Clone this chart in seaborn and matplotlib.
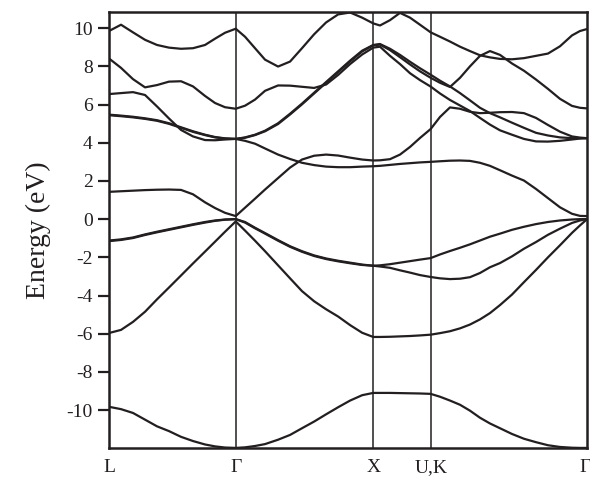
import numpy as np
import pandas as pd
import matplotlib
matplotlib.use("Agg")
import matplotlib.pyplot as plt
import matplotlib.transforms as mtransforms
import seaborn as sns

# ---- data ----
sym_k = [0.0, 0.2648, 0.5528, 0.6732, 1.0]
sym_labels = ["L", "Γ", "X", "U,K", "Γ"]

k_path = [0.0000, 0.0245, 0.0496, 0.0748, 0.0999, 0.1250, 0.1502, 0.1753, 0.2005, 0.2215, 0.2424, 0.2648,
          0.2843, 0.3052, 0.3262, 0.3535, 0.3786, 0.4036, 0.4290, 0.4541, 0.4793, 0.5044, 0.5296, 0.5528,
          0.5670, 0.5880, 0.6089, 0.6299, 0.6508, 0.6732,
          0.6927, 0.7136, 0.7346, 0.7555, 0.7765, 0.7974, 0.8184, 0.8435, 0.8686, 0.8938, 0.9189, 0.9440,
          0.9692, 0.9859, 1.0000]

band_top = [9.86, 10.18, 9.78, 9.39, 9.12, 8.98, 8.92, 8.95, 9.12, 9.45, 9.76, 9.97,
            9.55, 8.95, 8.35, 7.99, 8.25, 8.95, 9.68, 10.30, 10.72, 10.82, 10.55, 10.25,
            10.14, 10.42, 10.80, 10.55, 10.18, 9.78,
            9.55, 9.30, 9.03, 8.80, 8.58, 8.47, 8.39, 8.37, 8.43, 8.55, 8.67, 9.05, 9.62, 9.85, 9.95]
band_c9 = [8.40, 7.92, 7.33, 6.90, 7.02, 7.20, 7.22, 6.95, 6.45, 6.08, 5.86, 5.78,
           5.94, 6.26, 6.72, 7.00, 6.99, 6.93, 6.87, 7.05, 7.55, 8.12, 8.62, 8.98,
           9.03, 8.55, 8.12, 7.64, 7.28, 6.94,
           6.58, 6.24, 5.95, 5.66, 5.30, 4.95, 4.65, 4.42, 4.20, 4.07, 4.06, 4.10, 4.17, 4.22, 4.24]
band_ca = [5.47, 5.42, 5.36, 5.28, 5.18, 5.02, 4.81, 4.60, 4.42, 4.30, 4.23, 4.20,
           4.28, 4.42, 4.63, 5.02, 5.52, 6.05, 6.62, 7.18, 7.74, 8.30, 8.82, 9.12,
           9.17, 8.92, 8.60, 8.24, 7.90, 7.56,
           7.25, 6.95, 6.60, 6.22, 5.83, 5.55, 5.33, 5.05, 4.78, 4.52, 4.38, 4.28, 4.24, 4.24, 4.24]
band_cb = [5.44, 5.39, 5.33, 5.25, 5.15, 4.99, 4.78, 4.57, 4.40, 4.28, 4.22, 4.20,
           4.26, 4.40, 4.60, 4.98, 5.48, 6.01, 6.58, 7.14, 7.70, 8.26, 8.78, 9.10,
           9.14, 8.85, 8.48, 8.10, 7.74, 7.40,
           7.14, 6.92, 7.40, 8.00, 8.55, 8.80, 8.60, 8.15, 7.77, 7.31, 6.82, 6.30, 5.93, 5.83, 5.80]
band_c8 = [6.55, 6.60, 6.65, 6.50, 5.90, 5.27, 4.67, 4.33, 4.14, 4.13, 4.17, 4.20,
           4.10, 3.95, 3.70, 3.38, 3.15, 2.95, 2.83, 2.75, 2.72, 2.72, 2.75, 2.77,
           2.79, 2.84, 2.89, 2.93, 2.97, 3.00,
           3.03, 3.06, 3.07, 3.05, 2.95, 2.79, 2.56, 2.28, 2.02, 1.58, 1.10, 0.62, 0.28, 0.17, 0.16]
band_c1 = [1.43, 1.46, 1.49, 1.52, 1.54, 1.55, 1.53, 1.30, 0.88, 0.58, 0.33, 0.16,
           0.60, 1.07, 1.55, 2.15, 2.70, 3.12, 3.32, 3.38, 3.33, 3.22, 3.12, 3.07,
           3.08, 3.14, 3.38, 3.78, 4.25, 4.72,
           5.35, 5.85, 5.78, 5.62, 5.55, 5.57, 5.60, 5.61, 5.55, 5.30, 4.93, 4.58, 4.33, 4.27, 4.24]
band_v3 = [-1.12, -1.06, -0.96, -0.80, -0.66, -0.53, -0.40, -0.27, -0.15, -0.07, -0.02, 0.00,
           -0.15, -0.45, -0.73, -1.10, -1.42, -1.68, -1.90, -2.06, -2.18, -2.28, -2.38, -2.44,
           -2.42, -2.36, -2.28, -2.20, -2.12, -2.04,
           -1.85, -1.67, -1.50, -1.32, -1.12, -0.92, -0.76, -0.56, -0.40, -0.26, -0.15, -0.07, -0.02, 0.00, 0.00]
band_v4 = [-1.15, -1.09, -0.99, -0.83, -0.69, -0.56, -0.43, -0.30, -0.18, -0.09, -0.03, 0.00,
           -0.18, -0.48, -0.76, -1.13, -1.45, -1.71, -1.93, -2.09, -2.21, -2.31, -2.40, -2.44,
           -2.48, -2.55, -2.68, -2.80, -2.93, -3.03,
           -3.10, -3.14, -3.12, -3.04, -2.82, -2.52, -2.30, -1.95, -1.55, -1.20, -0.82, -0.50, -0.20, -0.07, 0.00]
band_v2 = [-5.96, -5.80, -5.38, -4.85, -4.20, -3.58, -2.95, -2.32, -1.70, -1.18, -0.66, -0.12,
           -0.60, -1.13, -1.68, -2.42, -3.10, -3.77, -4.30, -4.72, -5.10, -5.55, -5.95, -6.17,
           -6.17, -6.16, -6.14, -6.12, -6.09, -6.05,
           -5.97, -5.87, -5.72, -5.52, -5.25, -4.92, -4.50, -3.95, -3.30, -2.66, -2.00, -1.37, -0.72, -0.33, -0.02]
band_v1 = [-9.83, -9.95, -10.15, -10.50, -10.85, -11.10, -11.40, -11.62, -11.80, -11.90, -11.96, -11.98,
           -11.95, -11.88, -11.78, -11.55, -11.30, -10.95, -10.60, -10.22, -9.85, -9.50, -9.22, -9.10,
           -9.10, -9.10, -9.11, -9.12, -9.13, -9.15,
           -9.30, -9.50, -9.72, -10.03, -10.40, -10.70, -10.95, -11.25, -11.50, -11.68, -11.84, -11.93, -11.97, -11.98, -11.98]

y_ticks = [-10, -8, -6, -4, -2, 0, 2, 4, 6, 8, 10]
y_tick_labels = ["-10", "-8", "-6", "-4", "-2", "0", "2", "4", "6", "8", "10"]

bands = {"v1": band_v1, "v2": band_v2, "v3": band_v3, "v4": band_v4,
         "c1": band_c1, "c8": band_c8, "ca": band_ca, "cb": band_cb,
         "c9": band_c9, "top": band_top}

# ---- long table ----
rows = []
for name, vals in bands.items():
    for k, e in zip(k_path, vals):
        rows.append({"band": name, "k": k, "E": e})
df = pd.DataFrame(rows)

sns.set_theme(style="ticks")
plt.rcParams["font.family"] = ["serif"]
plt.rcParams["font.serif"] = ["Liberation Serif", "Times New Roman", "Nimbus Roman", "DejaVu Serif"]
ink = "#231f20"

fig = plt.figure(figsize=(5.9, 4.79), dpi=100)
ax = fig.add_axes([0.1853, 0.0641, 0.8091, 0.9102])

sns.lineplot(data=df, x="k", y="E", units="band", estimator=None, sort=False,
             color=ink, linewidth=1.6, ax=ax, legend=False)

for kk in sym_k[1:-1]:
    ax.axvline(kk, color=ink, linewidth=1.1, zorder=1)

ax.set_xlim(sym_k[0], sym_k[-1])
ax.set_ylim(-12.0, 10.83)
ax.set_xticks(sym_k)
ax.set_xticklabels(sym_labels)
ax.set_yticks(y_ticks)
ax.set_yticklabels(y_tick_labels)
ax.tick_params(axis="x", length=0, pad=8, labelsize=14, colors=ink)
ax.tick_params(axis="y", direction="out", length=8, width=1.6, pad=4, labelsize=14, colors=ink)
for sp in ax.spines.values():
    sp.set_linewidth(1.8)
    sp.set_color(ink)
    sp.set_visible(True)

# keep the last Γ inside the canvas
last = ax.get_xticklabels()[-1]
last.set_horizontalalignment("right")
last.set_transform(last.get_transform() + mtransforms.ScaledTranslation(4 / 100, 0, fig.dpi_scale_trans))

ax.set_xlabel("")
ax.set_ylabel("Energy (eV)", fontsize=20, color=ink, labelpad=11)

fig.savefig("out.png", dpi=100)
